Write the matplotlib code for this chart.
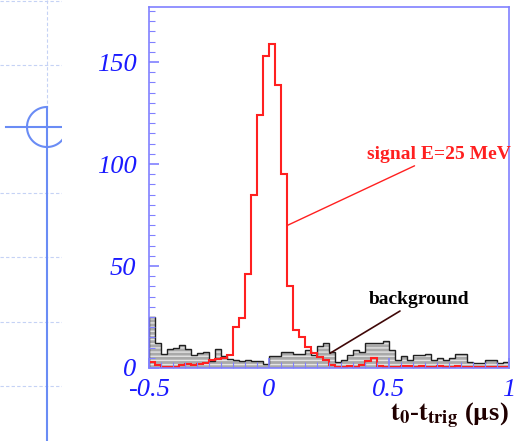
import numpy as np
import matplotlib
matplotlib.use("Agg")
import matplotlib.pyplot as plt
from matplotlib.ticker import MultipleLocator


# Histogram data (60 bins of 0.025 us from -0.5 to 1.0)
bin_edges = np.linspace(-0.5, 1.0, 61)

signal_counts = [2.8, 1.6, 0.5, 0.5, 0.5, 1.6, 2.1, 1.6, 2.1, 2.5,
                 4.0, 4.4, 4.9, 6.2, 20, 24.5, 46, 85, 124, 153,
                 159, 139, 95, 40, 18.7, 15, 10.5, 7.4, 5.4, 4.0,
                 1.6, 0.5, 0.5, 1.0, 0.5, 1.5, 3.5, 4.9, 1.0, 0.5,
                 0.5, 0.5, 1.0, 1.0, 0.5, 1.0, 0.5, 0.5, 1.0, 0.5,
                 0.5, 1.0, 0.5, 0.5, 0.5, 0.5, 0.5, 0.5, 0.5, 0.5]

background_counts = [25, 12.3, 7, 9.5, 10, 11.3, 9.3, 6.2, 7.4, 7.8,
                     3.3, 9.3, 5.7, 4.4, 4, 3.6, 4, 3.3, 3.6, 2.1,
                     5.7, 5.7, 7.7, 7.7, 7, 7, 8.7, 6.5, 11, 12.3,
                     8, 3.1, 4, 6.4, 8.8, 8, 12.4, 12.4, 12.4, 13,
                     8.8, 4, 5.9, 4, 6.4, 6.4, 6.9, 4, 4.7, 4,
                     4.7, 6.9, 6.9, 3.1, 2.3, 2.3, 4, 3.7, 2.3, 3.1]

x_ticks = [-0.5, 0, 0.5, 1]
x_tick_labels = ["-0.5", "0", "0.5", "1"]
y_ticks = [0, 50, 100, 150]

W, H = 516, 441
axis_blue = "#8080ff"
label_blue = "#1a1aff"

plt.rcParams["mathtext.fontset"] = "stix"
plt.rcParams["hatch.linewidth"] = 1.0

fig = plt.figure(figsize=(W / 100, H / 100), dpi=100)

# Leftover decoration from a neighbouring figure
deco = fig.add_axes([0, 0, 62 / W, 1])
deco.set_xlim(0, 62)
deco.set_ylim(H, 0)
deco.axis("off")
for yy in [1, 65, 193, 257, 322, 386]:
    deco.plot([0, 62], [yy, yy], color="#c5d2f5", lw=0.8, ls=(0, (3, 2)))
deco.plot([47, 47], [0, 107], color="#c5d2f5", lw=0.8, ls=(0, (3, 2)))
deco.plot([47, 47], [107, H], color="#6a8cf5", lw=1.5)
deco.plot([6, 62], [127, 127], color="#6a8cf5", lw=1.5)
theta = np.radians(np.linspace(90, 330, 100))
deco.plot(47 + 20 * np.cos(theta), 127 - 20 * np.sin(theta), color="#6a8cf5", lw=1.5)

# Main histogram axes
ax = fig.add_axes([149 / W, (H - 368) / H, 360 / W, 361 / H])

ax.stairs(background_counts, bin_edges, fill=True, facecolor="#a9a9a9",
          edgecolor="#e4e4e4", hatch="----", linewidth=0)
ax.stairs(background_counts, bin_edges, color="#202020", linewidth=1.0)
ax.stairs(signal_counts, bin_edges, color="#ff2020", linewidth=1.5)

ax.set_xlim(-0.5, 1.0)
ax.set_ylim(0, 177)

for side in ax.spines.values():
    side.set_color(axis_blue)
    side.set_linewidth(1.2)

ax.set_xticks(x_ticks)
ax.set_xticklabels(x_tick_labels)
ax.set_yticks(y_ticks)
ax.xaxis.set_minor_locator(MultipleLocator(0.05))
ax.yaxis.set_minor_locator(MultipleLocator(5))
ax.tick_params(which="both", direction="in", colors=axis_blue,
               top=False, right=False)
ax.tick_params(which="major", length=7, width=1.2)
ax.tick_params(which="minor", length=4, width=0.8)
ax.tick_params(axis="y", pad=9)
ax.tick_params(axis="x", pad=8)
for lab in ax.get_xticklabels() + ax.get_yticklabels():
    lab.set_family("Liberation Serif")
    lab.set_style("italic")
    lab.set_fontsize(19)
    lab.set_color(label_blue)

# Annotations
ax.annotate("signal E=25 MeV", xy=(0.078, 70), xytext=(0.407, 100.5),
            color="#ff2020", fontsize=14, fontweight="bold",
            family="Liberation Serif", ha="left", va="bottom",
            arrowprops=dict(arrowstyle="-", color="#ff2020", lw=1.0,
                            shrinkA=0, shrinkB=0))
ax.annotate("background", xy=(0.254, 7.2), xytext=(0.414, 29.3),
            color="black", fontsize=14, fontweight="bold",
            family="Liberation Serif", ha="left", va="bottom",
            arrowprops=dict(arrowstyle="-", color="#400808", lw=1.2,
                            shrinkA=0, shrinkB=0))

fig.text(509 / W, (H - 416) / H,
         r"$\mathbf{t_0}$-$\mathbf{t_{trig}}$ ($\mathbf{\mu}$s)",
         ha="right", va="center", fontsize=19, fontweight="bold",
         family="Liberation Serif", color="#200000")

fig.savefig("out.png", dpi=100)
